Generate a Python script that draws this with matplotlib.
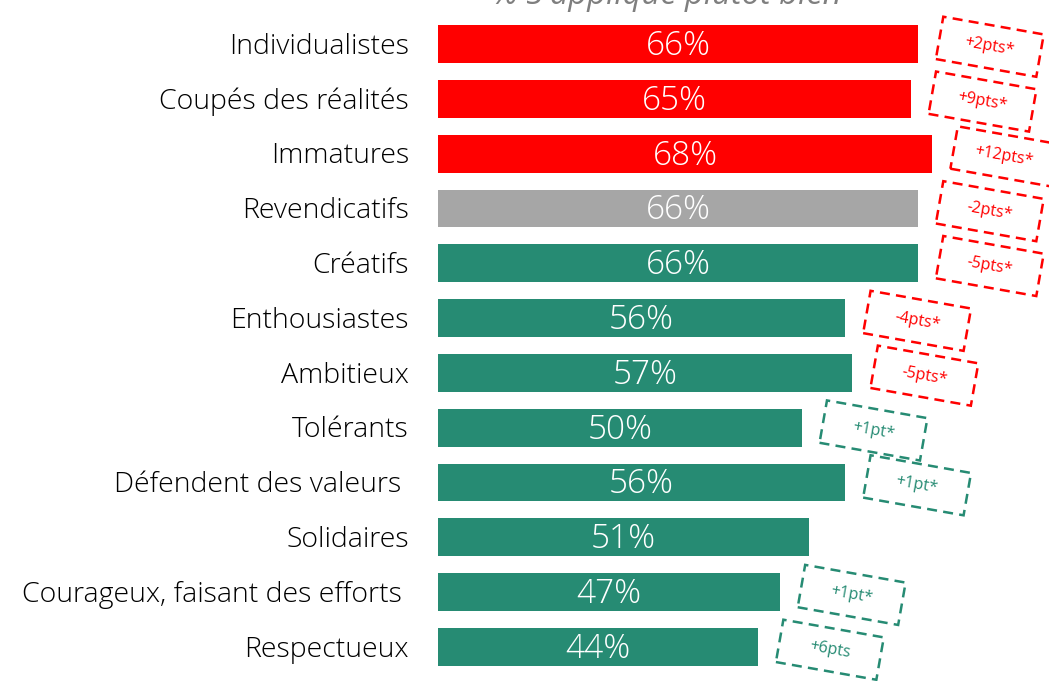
import matplotlib.pyplot as plt
from matplotlib.patches import Rectangle
from matplotlib.transforms import Affine2D, ScaledTranslation

## Données

categories = ["Individualistes", "Coupés des réalités", "Immatures", "Revendicatifs",
              "Créatifs", "Enthousiastes", "Ambitieux", "Tolérants",
              "Défendent des valeurs ", "Solidaires", "Courageux, faisant des efforts ",
              "Respectueux"]
valeurs = [66, 65, 68, 66, 66, 56, 57, 50, 56, 51, 47, 44]
groupes = ["neg", "neg", "neg", "neutre", "pos", "pos", "pos", "pos", "pos", "pos", "pos", "pos"]
evolutions = ["+2pts*", "+9pts*", "+12pts*", "-2pts*", "-5pts*", "-4pts*", "-5pts*",
              "+1pt*", "+1pt*", "", "+1pt*", "+6pts"]
evol_sens = ["neg", "neg", "neg", "neg", "neg", "neg", "neg", "pos", "pos", "", "pos", "pos"]

## Style

ROUGE = "#FF0000"
GRIS = "#A6A6A6"
VERT = "#268B73"
couleurs = {"neg": ROUGE, "neutre": GRIS, "pos": VERT}
plt.rcParams['font.family'] = ['Open Sans', 'DejaVu Sans']

W, H = 1049, 681
fig = plt.figure(figsize=(W / 100, H / 100), dpi=100)
px_unit = 7.27  # pixels par point de pourcentage
left = 438
ax = fig.add_axes([left / W, 6.6 / H, (W - left) / W, (664.4 - 6.6) / H])
ax.set_xlim(0, (W - left) / px_unit)
ax.set_ylim(len(categories) - 0.5, -0.5)
ax.axis("off")

# Barres
pos = list(range(len(categories)))
ax.barh(pos, valeurs, height=0.69, color=[couleurs[g] for g in groupes])

for i, (v, cat) in enumerate(zip(valeurs, categories)):
    ax.text(v / 2, i + 0.04, f"{v}%", color="white", ha="center", va="center",
            fontsize=24, fontweight="light")
    ax.text(-4.0, i + 0.05, cat, color="black", ha="right", va="center", fontsize=20.5,
            fontweight="light")

# Cadres pointillés inclinés
bw, bh = 1.02, 0.43  # taille du cadre en pouces
for i, (v, ev, s) in enumerate(zip(valeurs, evolutions, evol_sens)):
    if ev == "":
        continue
    c = couleurs[s]
    xc = v + 9.9
    yc = i + 0.05
    tr = Affine2D().rotate_deg(-10) + fig.dpi_scale_trans + ScaledTranslation(xc, yc, ax.transData)
    rect = Rectangle((-bw / 2, -bh / 2), bw, bh, fill=False, ec=c, lw=1.8,
                     ls=(0, (4, 2.5)), transform=tr, clip_on=False)
    ax.add_patch(rect)
    ax.text(xc, yc, ev, color=c, fontsize=11.5, ha="center", va="center",
            rotation=-10, rotation_mode="anchor", clip_on=False)

# Titre coupé en haut
fig.text(667 / W, 1 - 4 / H, "% S'applique plutôt bien", color="#7f7f7f", fontsize=23.5,
         style="italic", ha="center", va="baseline")

plt.savefig("out.png", dpi=100)
